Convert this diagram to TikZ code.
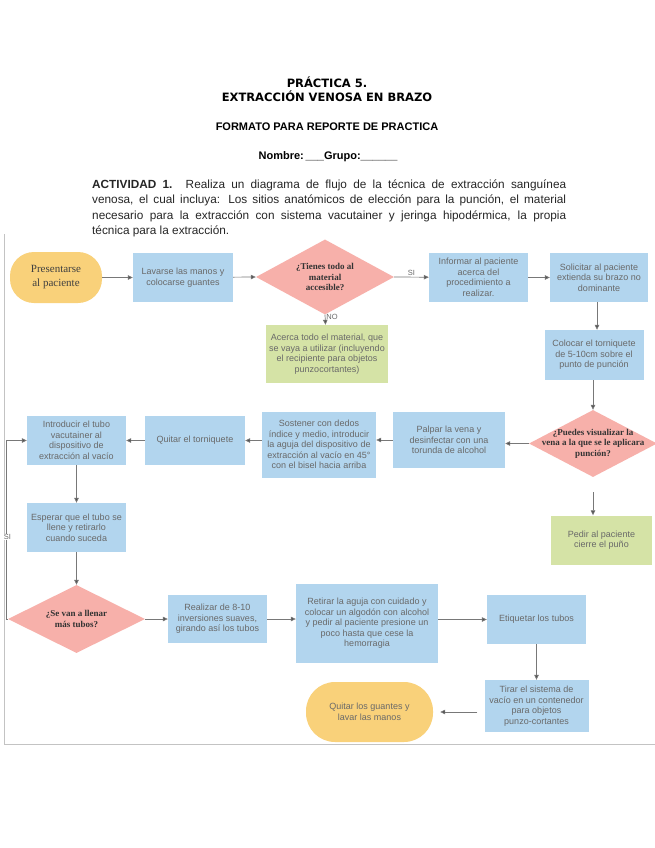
\documentclass[tikz,border=0pt]{standalone}
\usepackage{fontspec}
\setmainfont{Liberation Sans}
\newfontfamily\dejabold{DejaVu Sans}
\newfontfamily\serifb{Liberation Serif}
\usetikzlibrary{shapes.geometric,arrows.meta}
\definecolor{boxblue}{RGB}{178,213,238}
\definecolor{boxorange}{RGB}{249,209,122}
\definecolor{boxpink}{RGB}{247,176,170}
\definecolor{boxgreen}{RGB}{213,227,166}
\definecolor{txtgray}{RGB}{105,105,105}
\definecolor{linegray}{RGB}{120,120,120}
\definecolor{tipgray}{RGB}{80,80,80}
\definecolor{framegray}{RGB}{195,195,195}
\begin{document}
\begin{tikzpicture}[x=1pt,y=-1pt,
  bx/.style={rectangle, fill=boxblue, draw=none, align=center, font=\fontsize{9}{10.5}\selectfont, text=txtgray, inner sep=1pt},
  gbx/.style={bx, fill=boxgreen},
  term/.style={rectangle, fill=boxorange, draw=none, align=center, inner sep=1pt},
  dia/.style={diamond, fill=boxpink, draw=none, inner sep=0pt},
  dtext/.style={align=center, font=\serifb\bfseries\fontsize{9}{10.5}\selectfont, text=black!80, inner sep=0pt},
  arr/.style={draw=linegray, line width=0.7pt, -{Triangle[length=5pt,width=4.5pt,fill=tipgray]}},
  lab/.style={font=\fontsize{7.5}{8}\selectfont, text=txtgray, inner sep=1pt},
  hdr/.style={inner sep=0pt, anchor=west},
  ptext/.style={font=\fontsize{11.8}{13}\selectfont, text=black!85}
]
\useasboundingbox (0,0) rectangle (655,848);
\fill[white] (0,0) rectangle (655,848);

% header
\node[font=\dejabold\bfseries\fontsize{11.5}{13}\selectfont, inner sep=0pt] (t1) at (327,82) {PRÁCTICA 5.};
\node[font=\dejabold\bfseries\fontsize{11.5}{13}\selectfont, inner sep=0pt] (t2) at (327,96) {EXTRACCIÓN VENOSA EN BRAZO};
\node[font=\bfseries\fontsize{11}{13}\selectfont, inner sep=0pt] (t3) at (327,127) {FORMATO PARA REPORTE DE PRACTICA};
\node[font=\bfseries\fontsize{11}{13}\selectfont, inner sep=0pt] (t4) at (328,157) {Nombre:\,\_\_\_Grupo:\_\_\_\_\_\_};
\node[hdr, ptext] (p1) at (92,185) {\makebox[474pt][s]{\textbf{ACTIVIDAD 1.} Realiza un diagrama de flujo de la técnica de extracción sanguínea}};
\node[hdr, ptext] (p2) at (92,200.5) {\makebox[474pt][s]{venosa, el cual incluya: Los sitios anatómicos de elección para la punción, el material}};
\node[hdr, ptext] (p3) at (92,216) {\makebox[474pt][s]{necesario para la extracción con sistema vacutainer y jeringa hipodérmica, la propia}};
\node[hdr, ptext] (p4) at (92,231.5) {técnica para la extracción.};

% frame
\draw[framegray, line width=0.8pt] (4,234) -- (4,744) -- (655,744);

% row 1
\node[term, rounded corners=24pt, minimum width=92pt, minimum height=51pt, font=\serifb\fontsize{11}{14}\selectfont, text=black!75] (n1) at (56,277.5) {Presentarse\\al paciente};
\node[bx, minimum width=100pt, minimum height=49pt] (n2) at (183,277.5) {Lavarse las manos y\\colocarse guantes};
\node[dia, minimum width=138pt, minimum height=75pt] (d1) at (325,277) {};
\node[dtext] (d1t) at (d1) {¿Tienes todo al\\material\\accesible?};
\node[bx, minimum width=99pt, minimum height=49pt] (n3) at (478.5,277.5) {Informar al paciente\\acerca del\\procedimiento a\\realizar.};
\node[bx, minimum width=98pt, minimum height=49pt] (n4) at (599,277.5) {Solicitar al paciente\\extienda su brazo no\\dominante};
\node[gbx, minimum width=122pt, minimum height=58pt] (g1) at (327,354) {Acerca todo el material, que\\se vaya a utilizar (incluyendo\\el recipiente para objetos\\punzocortantes)};
\node[bx, minimum width=99pt, minimum height=50pt] (n5) at (594,355) {Colocar el torniquete\\de 5-10cm sobre el\\punto de punción};

% row 2
\node[dia, minimum width=128pt, minimum height=67pt] (d2) at (593,443.5) {};
\node[dtext] (d2t) at (d2) {¿Puedes visualizar la\\vena a la que se le aplicara\\punción?};
\node[bx, minimum width=112pt, minimum height=56pt] (n6) at (449,440) {Palpar la vena y\\desinfectar con una\\torunda de alcohol};
\node[bx, minimum width=114pt, minimum height=66pt] (n7) at (319,444.5) {Sostener con dedos\\índice y medio, introducir\\la aguja del dispositivo de\\extracción al vacío en 45°\\con el bisel hacia arriba};
\node[bx, minimum width=100pt, minimum height=49pt] (n8) at (195,440.5) {Quitar el torniquete};
\node[bx, minimum width=99pt, minimum height=49pt] (n9) at (76.5,440.5) {Introducir el tubo\\vacutainer al\\dispositivo de\\extracción al vacío};
\node[bx, minimum width=99pt, minimum height=49pt] (n10) at (76.5,527.5) {Esperar que el tubo se\\llene y retirarlo\\cuando suceda};
\node[gbx, minimum width=101pt, minimum height=49pt] (g2) at (601.5,540) {Pedir al paciente\\cierre el puño};

% row 3
\node[dia, minimum width=137pt, minimum height=68pt] (d3) at (76.5,619) {};
\node[dtext] (d3t) at (d3) {¿Se van a llenar\\más tubos?};
\node[bx, minimum width=99pt, minimum height=48pt] (n11) at (217.5,619) {Realizar de 8-10\\inversiones suaves,\\girando así los tubos};
\node[bx, minimum width=142pt, minimum height=79pt] (n12) at (367,623.5) {Retirar la aguja con cuidado y\\colocar un algodón con alcohol\\y pedir al paciente presione un\\poco hasta que cese la\\hemorragia};
\node[bx, minimum width=99pt, minimum height=49pt] (n13) at (536.5,619.5) {Etiquetar los tubos};
\node[bx, minimum width=104pt, minimum height=52pt] (n14) at (536.5,706) {Tirar el sistema de\\vacío en un contenedor\\para objetos\\punzo-cortantes};
\node[term, rounded corners=29pt, minimum width=127pt, minimum height=60pt, font=\fontsize{9}{10.5}\selectfont, text=txtgray] (n15) at (369.5,712) {Quitar los guantes y\\lavar las manos};

% connectors
\draw[arr] (n1) -- (n2);
\draw[arr] (n2) -- (d1.west);
\draw[arr] (d1.east) -- (n3) node[lab, midway, above] (si1) {SI};
\draw[arr] (d1.south) -- (g1) node[lab, pos=0.25, right] (no1) {NO};
\draw[arr] (n3) -- (n4);
\draw[arr] ([xshift=-2pt]n4.south) -- ([xshift=-2pt]n4.south |- n5.north);
\draw[arr] (n5.south -| d2.north) -- (d2.north);
\draw[arr] (d2.west) -- (n6.east |- d2.west);
\draw[arr] (n6) -- (n7.east |- n6.west);
\draw[arr] (n7.west |- n8.east) -- (n8);
\draw[arr] (n8) -- (n9);
\draw[arr] (n9) -- (n10);
\draw[arr] (n10) -- (d3.north);
\draw[arr] (d3.east) -- (n11.west);
\draw[arr] (n11.east) -- (n11.east -| n12.west);
\draw[arr] (n12.east |- n13.west) -- (n13.west);
\draw[arr] (n13) -- (n14);
\draw[arr, shorten <=7pt, shorten >=7pt] (n14.west |- n15.east) -- (n15.east);
\draw[arr, shorten <=15pt] (d2.south) -- (d2.south |- g2.north);
\draw[arr] (d3.west) -- ++(-1,0) |- (n9.west);
\node[lab, fill=white, inner sep=0.5pt] (si2) at (7.5,537) {SI};
\end{tikzpicture}
\end{document}
